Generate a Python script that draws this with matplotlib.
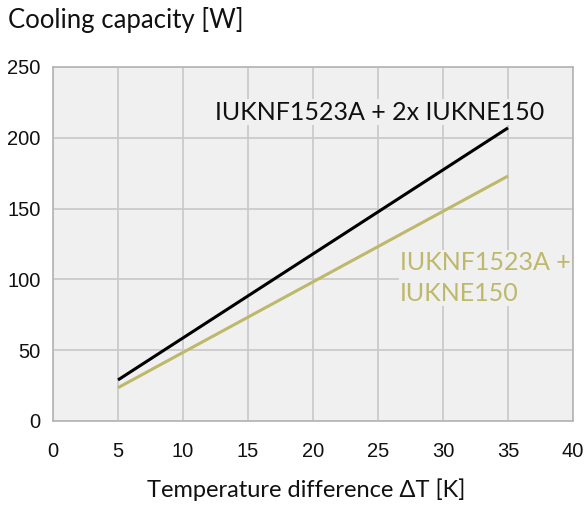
import matplotlib
matplotlib.use("Agg")
from matplotlib import pyplot as plt
import numpy as np

# data
dt = [5, 35]
cap_2x = [29, 207]
cap_1x = [23.5, 173]
label_2x = "IUKNF1523A + 2x IUKNE150"
label_1x = "IUKNF1523A +\nIUKNE150"
xticks = [0, 5, 10, 15, 20, 25, 30, 35, 40]
yticks = [0, 50, 100, 150, 200, 250]

bg = "#f0f0f0"
grid = "#c8c8c8"
olive = "#bdb86a"
txtfont = "Lato"
tickfont = "Liberation Sans"

fig = plt.figure(figsize=(5.85, 5.07), dpi=100)
ax = fig.add_axes([53/585, 1 - 421/507, 520/585, 354/507])
ax.set_facecolor(bg)
ax.set_xlim(0, 40)
ax.set_ylim(0, 250)
ax.set_xticks(xticks)
ax.set_yticks(yticks)
ax.grid(True, color=grid, linewidth=1.2)
ax.set_axisbelow(True)
for s in ax.spines.values():
    s.set_color("#b4b4b4")
    s.set_linewidth(1.2)
ax.tick_params(length=0, labelsize=14.5, colors="#111111")
ax.tick_params(axis="x", pad=15)
ax.tick_params(axis="y", pad=9)
for lab in ax.get_xticklabels() + ax.get_yticklabels():
    lab.set_family(tickfont)

ax.plot(dt, cap_2x, color="black", linewidth=2.2, solid_capstyle="butt")
ax.plot(dt, cap_1x, color=olive, linewidth=2.2, solid_capstyle="butt")

ax.text(12.45, 218, label_2x, fontsize=18, family=txtfont, color="#111111",
        va="center", ha="left",
        bbox=dict(facecolor=bg, edgecolor="none", pad=1))
ax.text(26.7, 101, label_1x, fontsize=18, family=txtfont, color=olive,
        va="center", ha="left", linespacing=1.4,
        bbox=dict(facecolor=bg, edgecolor="none", pad=1))

fig.text(8/585, 1 - 20/507, "Cooling capacity [W]", fontsize=18.5, family=txtfont,
         color="#111111", va="center", ha="left")
fig.text(306/585, 1 - 490/507, "Temperature difference \u0394T [K]", fontsize=17,
         family=txtfont, color="#111111", va="center", ha="center")

fig.savefig("out.png", dpi=100)
